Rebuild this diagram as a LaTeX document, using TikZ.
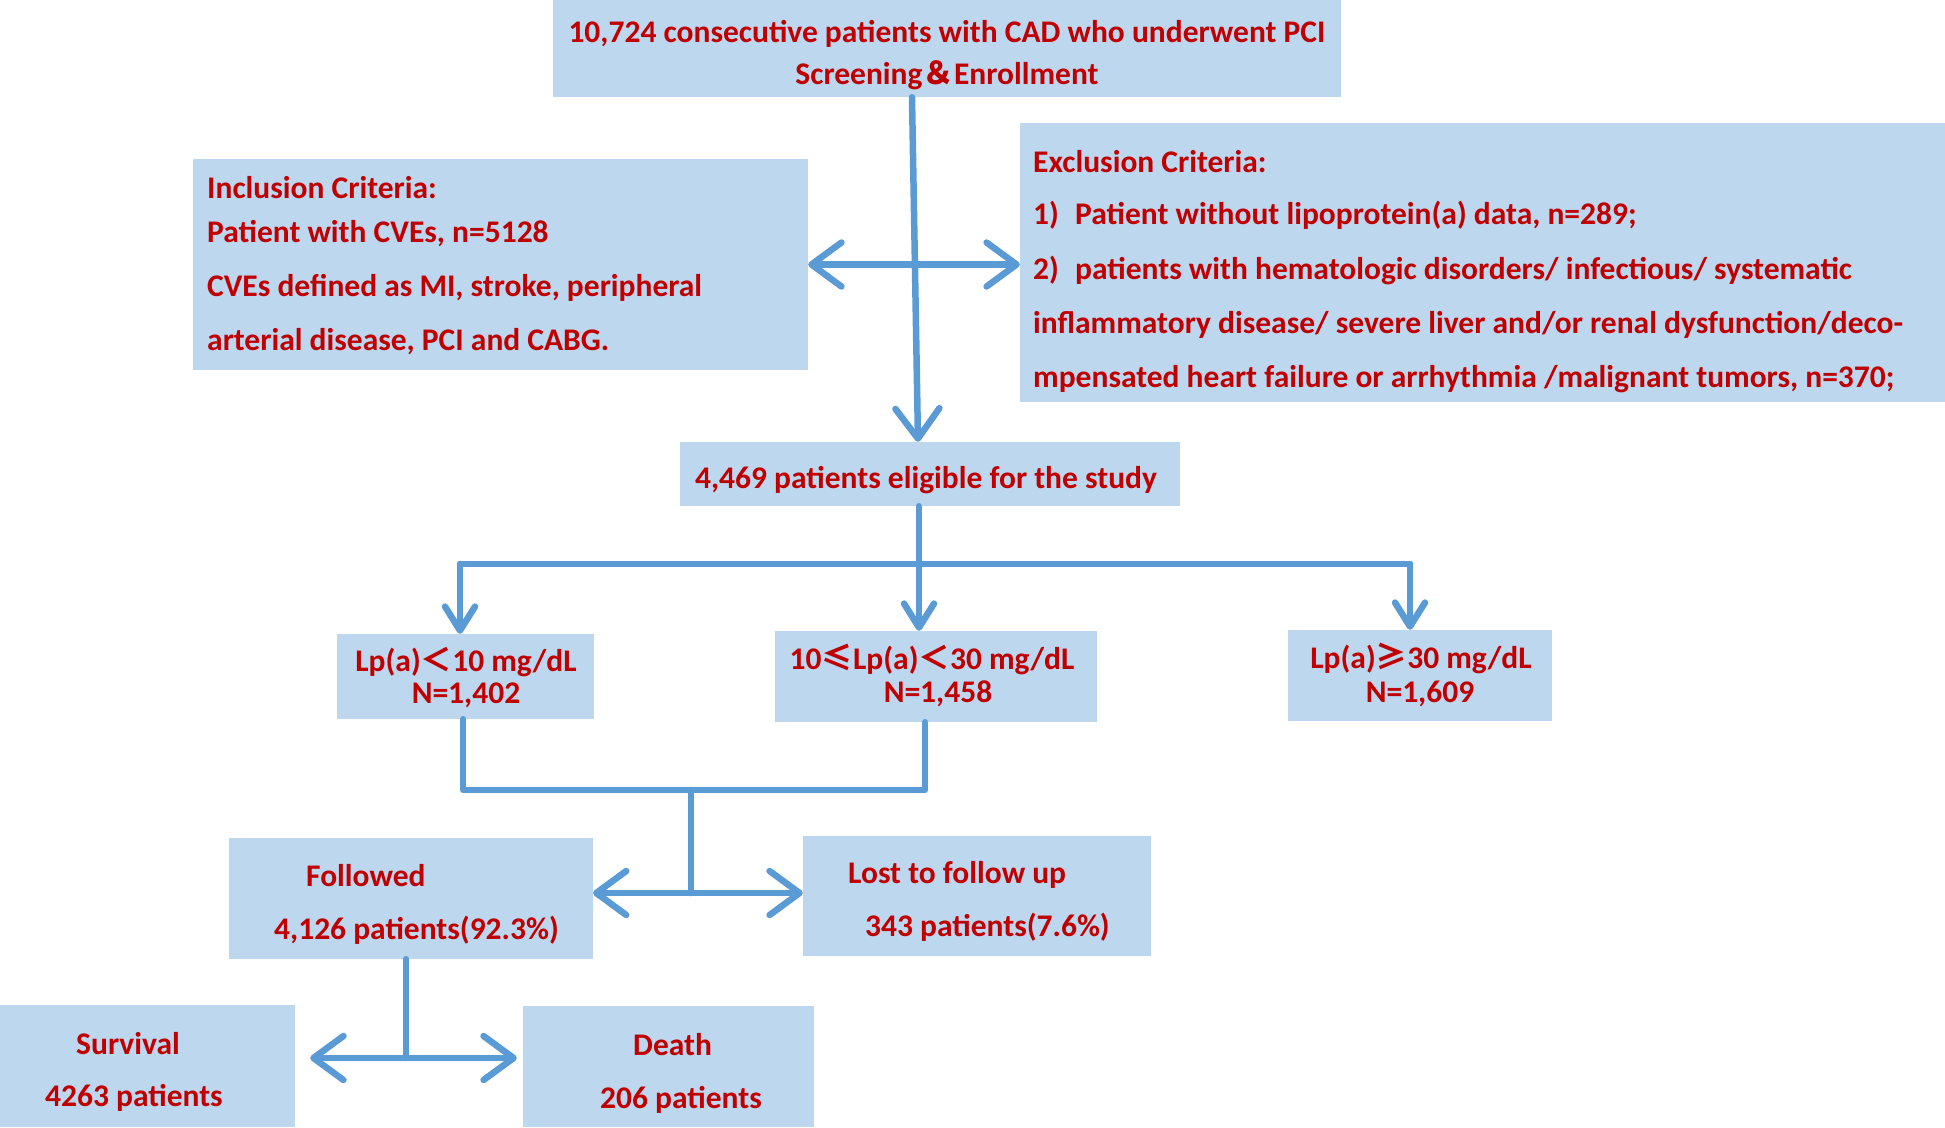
\documentclass[tikz,border=0pt]{standalone}
\usepackage{fontspec}
\setmainfont{Carlito}
\newfontfamily\cjk{Noto Sans CJK SC}
\usetikzlibrary{arrows.meta}
\definecolor{boxfill}{HTML}{BDD7EE}
\definecolor{linecol}{HTML}{5B9BD5}
\definecolor{txtcol}{HTML}{C00000}
\tikzset{
  box/.style={fill=boxfill, draw=none, inner sep=0pt},
  txt/.style={text=txtcol, font=\fontsize{31.5}{36}\selectfont\bfseries, inner sep=0pt, anchor=west, yshift=-2.5pt},
  ctxt/.style={text=txtcol, font=\fontsize{31.5}{36}\selectfont\bfseries, inner sep=0pt, yshift=-2.5pt},
  conn/.style={draw=linecol, line width=6.5pt, line cap=round, line join=round},
  bigtip/.style={conn, arrows={-Straight Barb[length=30pt,width=44pt,line cap=round,line join=round]}},
  dbltip/.style={conn, arrows={Straight Barb[length=30pt,width=44pt,line cap=round,line join=round]-Straight Barb[length=30pt,width=44pt,line cap=round,line join=round]}},
  smalltip/.style={conn, arrows={-Straight Barb[length=24pt,width=30pt,line cap=round,line join=round]}},
}
\newcommand{\fw}[1]{{\cjk #1}}
\begin{document}
\begin{tikzpicture}[x=1pt,y=-1pt]
\useasboundingbox (0,0) rectangle (1945,1127);
% boxes
\node[box, minimum width=788pt, minimum height=97pt] (top) at (947,48.5) {};
\node[box, minimum width=615pt, minimum height=211pt] (incl) at (500.5,264.5) {};
\node[box, minimum width=925pt, minimum height=279pt] (excl) at (1482.5,262.5) {};
\node[box, minimum width=500pt, minimum height=64pt] (elig) at (930,474) {};
\node[box, minimum width=257pt, minimum height=85pt] (lpa) at (465.5,676.5) {};
\node[box, minimum width=322pt, minimum height=91pt] (lpb) at (936,676.5) {};
\node[box, minimum width=264pt, minimum height=91pt] (lpc) at (1420,675.5) {};
\node[box, minimum width=364pt, minimum height=121pt] (fol) at (411,898.5) {};
\node[box, minimum width=348pt, minimum height=120pt] (lost) at (977,896) {};
\node[box, minimum width=295pt, minimum height=122pt] (surv) at (147.5,1066) {};
\node[box, minimum width=291pt, minimum height=121pt] (death) at (668.5,1066.5) {};
% texts
\node[ctxt] (t1) at (947,31) {10,724 consecutive patients with CAD who underwent PCI};
\node[ctxt] (t2) at (947,73) {Screening\fw{＆}Enrollment};
\node[txt] (i1) at (207,185) {Inclusion Criteria:};
\node[txt] (i2) at (207,231) {Patient with CVEs, n=5128};
\node[txt] (i3) at (207,285) {CVEs defined as MI, stroke, peripheral};
\node[txt] (i4) at (207,339) {arterial disease, PCI and CABG.};
\node[txt] (e1) at (1033,159) {Exclusion Criteria:};
\node[txt] (e2) at (1033,213) {\makebox[42pt][l]{1)}Patient without lipoprotein(a) data, n=289;};
\node[txt] (e3) at (1033,268) {\makebox[42pt][l]{2)}patients with hematologic disorders/ infectious/ systematic};
\node[txt] (e4) at (1033,322) {inflammatory disease/ severe liver and/or renal dysfunction/deco-};
\node[txt] (e5) at (1033,377) {mpensated heart failure or arrhythmia /malignant tumors, n=370;};
\node[ctxt] (el) at (926,478) {4,469 patients eligible for the study};
\node[ctxt] (la1) at (466,659) {Lp(a)\fw{＜}10 mg/dL};
\node[ctxt] (la2) at (466,693) {N=1,402};
\node[ctxt] (lb1) at (932,657) {10\fw{≤}Lp(a)\fw{＜}30 mg/dL};
\node[ctxt] (lb2) at (938,691) {N=1,458};
\node[ctxt] (lc1) at (1421,656) {Lp(a)\fw{≥}30 mg/dL};
\node[ctxt] (lc2) at (1420,691) {N=1,609};
\node[txt] (f1) at (306,873) {Followed};
\node[txt] (f2) at (274,928) {4,126 patients(92.3\%)};
\node[txt] (lo1) at (848,872) {Lost to follow up};
\node[txt] (lo2) at (865,925) {343 patients(7.6\%)};
\node[txt] (s1) at (76,1041) {Survival};
\node[txt] (s2) at (45,1095) {4263 patients};
\node[txt] (d1) at (633,1042) {Death};
\node[txt] (d2) at (600,1097) {206 patients};
% connectors
\draw[bigtip] ([xshift=-35pt]top.south) -- ([xshift=-12pt]elig.north);
\draw[dbltip] (incl.east) -- (incl.east -| excl.west);
\coordinate (bl) at (460,564);
\coordinate (br) at (1410,564);
\draw[conn] (bl) -- (br);
\draw[smalltip] (bl) -- (bl |- lpa.north);
\draw[smalltip] ([xshift=-11pt]elig.south) -- ([xshift=-11pt]elig.south |- lpb.north);
\draw[smalltip] (br) -- (br |- lpc.north);
\coordinate (ma) at (463,790);
\coordinate (mb) at (925,790);
\draw[conn] (ma |- lpa.south) -- (ma) -- (mb) -- (mb |- lpb.south);
\coordinate (mm) at (691,790);
\coordinate (fa) at (593,893);
\draw[conn] (mm) -- (mm |- fa);
\draw[dbltip] (fa) -- (fa -| lost.west);
\coordinate (sa) at (406,1058);
\draw[conn] (sa |- fol.south) -- (sa);
\draw[dbltip] ([xshift=15pt]sa -| surv.east) -- ([xshift=-6pt]sa -| death.west);
\end{tikzpicture}
\end{document}
